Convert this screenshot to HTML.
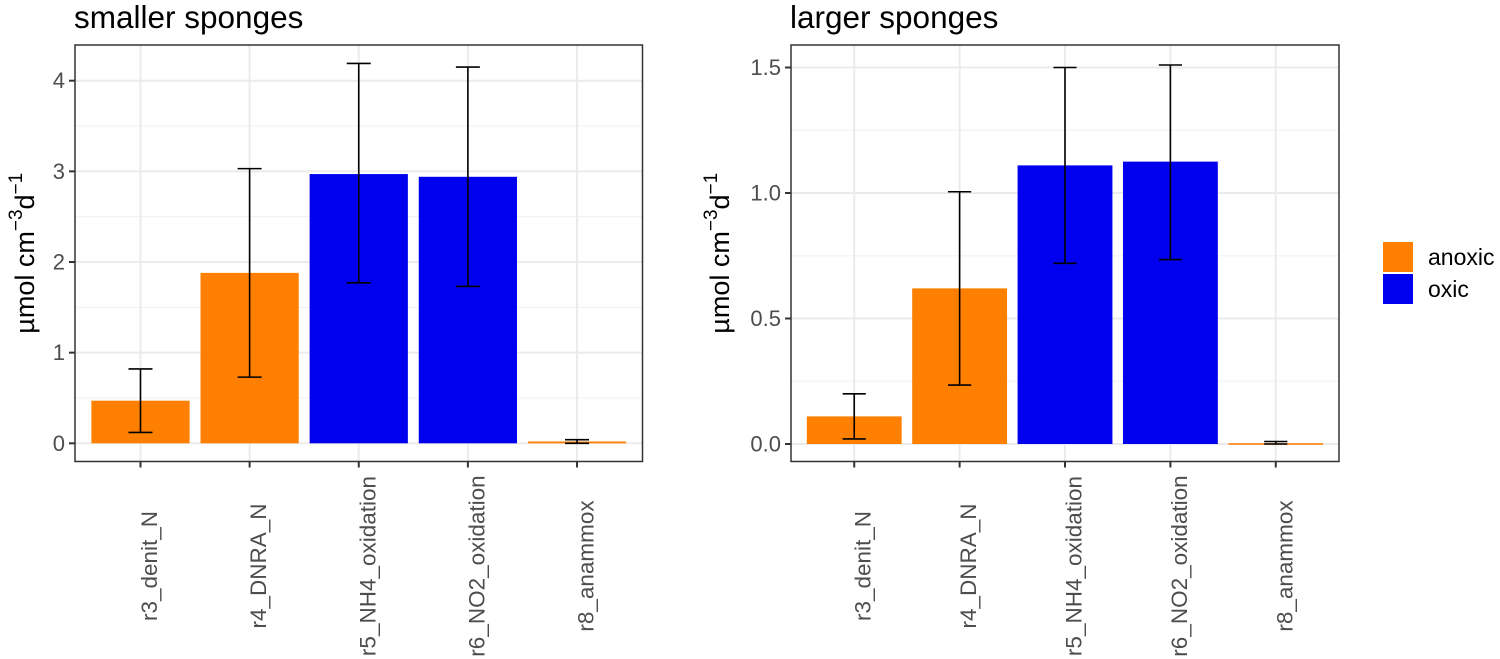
<!DOCTYPE html>
<html><head><meta charset="utf-8"><style>
body{margin:0;background:#fff}
svg{display:block;font-family:"Liberation Sans",Arial,sans-serif}
</style></head><body>
<svg id="chart" width="1500" height="659" viewBox="0 0 1500 659" xmlns="http://www.w3.org/2000/svg"></svg>
<script>
const categories = ["r3_denit_N","r4_DNRA_N","r5_NH4_oxidation","r6_NO2_oxidation","r8_anammox"];
const groups = ["anoxic","anoxic","oxic","oxic","anoxic"];
const smallValues = [0.47, 1.88, 2.97, 2.94, 0.02];
const smallLow = [0.12, 0.73, 1.77, 1.73, 0.00];
const smallHigh = [0.82, 3.03, 4.19, 4.15, 0.04];
const smallTicks = [0,1,2,3,4];
const smallTickLabels = ["0","1","2","3","4"];
const largeValues = [0.11, 0.62, 1.11, 1.125, 0.003];
const largeLow = [0.02, 0.235, 0.72, 0.735, 0.0];
const largeHigh = [0.20, 1.005, 1.50, 1.51, 0.01];
const largeTicks = [0,0.5,1,1.5];
const largeTickLabels = ["0.0","0.5","1.0","1.5"];
const colors = {anoxic:"#FF7F00", oxic:"#0000EE"};

const NS="http://www.w3.org/2000/svg";
const svg=document.getElementById('chart');
function mk(tag,attrs,parent){const e=document.createElementNS(NS,tag);for(const k in attrs)e.setAttribute(k,attrs[k]);(parent||svg).appendChild(e);return e;}

function panel(opt){
  const g=mk('g',{});
  
  
  const {x0,x1,y0,y1,zeroY,unitPx}=opt;
  const y=v=>zeroY - v*unitPx;
  const bw=(x1-x0)/5.2;
  const x=i=>x0+(i+0.6)*bw;
  for(let k=0;k<opt.ticks.length;k++){
    const step=opt.ticks[1]-opt.ticks[0];
    [opt.ticks[k]+step/2, opt.ticks[k]-step/2].forEach(v=>{
      const yy=y(v); if(yy>y0&&yy<y1){const l=mk('line',{x1:x0,x2:x1,y1:yy,y2:yy,stroke:'#f2f2f2','stroke-width':1},g);
      }
    });
  }
  opt.ticks.forEach((v,k)=>{
    const l=mk('line',{x1:x0,x2:x1,y1:y(v),y2:y(v),stroke:'#ebebeb','stroke-width':2},g);
    
    const t=mk('line',{x1:x0-6,x2:x0,y1:y(v),y2:y(v),stroke:'#333','stroke-width':2},g);
    
    const tx=mk('text',{x:x0-10,y:y(v),'text-anchor':'end','dominant-baseline':'central','font-size':22,fill:'#4d4d4d'},g);
    
    tx.textContent=opt.tickLabels[k];
  });
  categories.forEach((c,i)=>{
    const l=mk('line',{x1:x(i),x2:x(i),y1:y0,y2:y1,stroke:'#ebebeb','stroke-width':2},g);
    
  });
  categories.forEach((c,i)=>{
    const top=y(opt.values[i]);
    const r=mk('rect',{x:x(i)-bw*0.45,y:top,width:bw*0.9,height:Math.max(zeroY-top,1.5),fill:colors[groups[i]]},g);
    
    const eg=mk('g',{stroke:'#000','stroke-width':1.6,fill:'none'},g);
    
    const yl=y(opt.low[i]), yh=y(opt.high[i]), hw=bw*0.11;
    mk('line',{x1:x(i),x2:x(i),y1:yl,y2:yh},eg);
    mk('line',{x1:x(i)-hw,x2:x(i)+hw,y1:yl,y2:yl},eg);
    mk('line',{x1:x(i)-hw,x2:x(i)+hw,y1:yh,y2:yh},eg);
    const t=mk('line',{x1:x(i),x2:x(i),y1:y1,y2:y1+6,stroke:'#333','stroke-width':2},g);
    
    const tx=mk('text',{transform:`translate(${x(i)+9},566) rotate(-90)`,'text-anchor':'middle','dominant-baseline':'central','font-size':22.5,fill:'#4d4d4d'},g);
    
    tx.textContent=c;
  });
  const b=mk('rect',{x:x0,y:y0,width:x1-x0,height:y1-y0,fill:'none',stroke:'#333','stroke-width':1.5},g);
  
  const ti=mk('text',{x:x0-1,y:28,'font-size':31.5,fill:'#000'},g);
  
  ti.textContent=opt.title;
  const yt=mk('text',{transform:`translate(${opt.ytX},${(y0+y1)/2}) rotate(-90)`,'text-anchor':'middle','font-size':27,fill:'#000'},g);
  
  yt.innerHTML='µmol cm<tspan dy="-12" font-size="19">−3</tspan><tspan dy="12">d</tspan><tspan dy="-12" font-size="19">−1</tspan>';
}
panel({name:'panel-smaller-sponges',title:'smaller sponges',x0:75,x1:642.5,y0:45,y1:461.5,zeroY:443.3,unitPx:90.65,
  values:smallValues,low:smallLow,high:smallHigh,ticks:smallTicks,tickLabels:smallTickLabels,ytX:34});
panel({name:'panel-larger-sponges',title:'larger sponges',x0:791,x1:1339,y0:45,y1:461.5,zeroY:444,unitPx:251,
  values:largeValues,low:largeLow,high:largeHigh,ticks:largeTicks,tickLabels:largeTickLabels,ytX:729});

const lg=mk('g',{});


[["anoxic",242],["oxic",274]].forEach(([k,yy])=>{
  const r=mk('rect',{x:1383,y:yy,width:30,height:30,fill:colors[k]},lg);
  
  const t=mk('text',{x:1428,y:yy+15,'dominant-baseline':'central','font-size':23,fill:'#000'},lg);
  
  t.textContent=k;
});
</script>
</body></html>
